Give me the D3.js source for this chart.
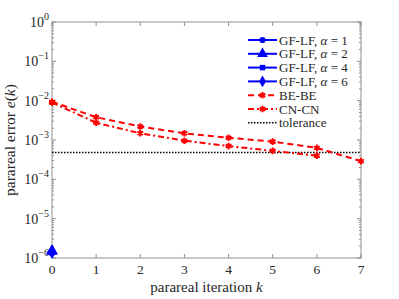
<!DOCTYPE html>
<html>
<head>
<meta charset="utf-8">
<script src="https://cdn.jsdelivr.net/npm/d3@7"></script>
<style>
  body { margin: 0; background: #fff; }
  text { font-family: "Liberation Serif", "DejaVu Serif", serif; fill: #262626; }
</style>
</head>
<body>
<script>
// parareal error vs iteration

var iterations = [0, 1, 2, 3, 4, 5, 6, 7];
var beBe = [9.4e-3, 3.8e-3, 2.2e-3, 1.48e-3, 1.14e-3, 9.1e-4, 6.3e-4, 2.9e-4];
var cnCn = [9.0e-3, 2.75e-3, 1.48e-3, 9.6e-4, 7.0e-4, 5.3e-4, 4.0e-4];
var gfAlpha = [1, 2, 4, 6];
var gfErr = [1.4e-6, 1.5e-6, 1.4e-6, 1.4e-6];
var tolerance = 4.8e-4;
var xTicks = [0, 1, 2, 3, 4, 5, 6, 7];
var yDecades = [0, -1, -2, -3, -4, -5, -6];

var W = 399, H = 299;
var m = {l: 52, r: 38, t: 22, b: 41};

var svg = d3.select("body").append("svg")
  .attr("width", W).attr("height", H);

var x = d3.scaleLinear().domain([0, 7]).range([m.l, W - m.r]);
var y = d3.scaleLog().domain([1e-6, 1]).range([H - m.b, m.t]);

var axCol = "#8f8f8f";

// frame
svg.append("rect")
  .attr("x", m.l).attr("y", m.t)
  .attr("width", W - m.r - m.l).attr("height", H - m.b - m.t)
  .attr("fill", "none").attr("stroke", axCol).attr("stroke-width", 1);

// x ticks (bottom + top, inward)
xTicks.forEach(function(k) {
  svg.append("line").attr("x1", x(k)).attr("x2", x(k))
    .attr("y1", H - m.b).attr("y2", H - m.b - 4).attr("stroke", axCol);
  svg.append("line").attr("x1", x(k)).attr("x2", x(k))
    .attr("y1", m.t).attr("y2", m.t + 4).attr("stroke", axCol);
  svg.append("text").attr("x", x(k)).attr("y", H - m.b + 16)
    .attr("text-anchor", "middle").attr("font-size", 13.5).text(k);
});

// y ticks, major and minor
var minor = y.ticks();
minor.forEach(function(v) {
  var major = Math.abs(Math.log10(v) - Math.round(Math.log10(v))) < 1e-9;
  var len = major ? 4 : 2;
  svg.append("line").attr("x1", m.l).attr("x2", m.l + len)
    .attr("y1", y(v)).attr("y2", y(v)).attr("stroke", axCol);
  svg.append("line").attr("x1", W - m.r).attr("x2", W - m.r - len)
    .attr("y1", y(v)).attr("y2", y(v)).attr("stroke", axCol);
});
yDecades.forEach(function(p) {
  var t = svg.append("text").attr("x", m.l - 3).attr("y", y(Math.pow(10, p)) + 5)
    .attr("text-anchor", "end").attr("font-size", 14);
  t.append("tspan").text("10");
  t.append("tspan").attr("dy", -7).attr("font-size", 10)
    .text(p === 0 ? "0" : "\u2212" + Math.abs(p));
});

// labels
var xl = svg.append("text").attr("x", (m.l + W - m.r) / 2).attr("y", H - 7)
  .attr("text-anchor", "middle").attr("font-size", 15);
xl.append("tspan").text("parareal iteration ");
xl.append("tspan").attr("font-style", "italic").text("k");

var yl = svg.append("text")
  .attr("transform", "translate(15," + ((m.t + H - m.b) / 2) + ") rotate(-90)")
  .attr("text-anchor", "middle").attr("font-size", 15.5);
yl.append("tspan").text("parareal error ");
yl.append("tspan").attr("font-style", "italic").text("e");
yl.append("tspan").text("(");
yl.append("tspan").attr("font-style", "italic").text("k");
yl.append("tspan").text(")");

// tolerance
svg.append("line").attr("x1", m.l).attr("x2", W - m.r)
  .attr("y1", y(tolerance)).attr("y2", y(tolerance))
  .attr("stroke", "#000").attr("stroke-width", 1.6).attr("stroke-dasharray", "1.5,1.5");

var line = d3.line().x(function(d, i) { return x(iterations[i]); })
  .y(function(d) { return y(d); });

var red = "#ff0000";
var series = [
  {name: "BE-BE", data: beBe, dash: "6,4"},
  {name: "CN-CN", data: cnCn, dash: "6,3,2,3"}
];
var star = d3.symbol().type(d3.symbolAsterisk).size(30);

series.forEach(function(s) {
  svg.append("path").attr("d", line(s.data)).attr("fill", "none")
    .attr("stroke", red).attr("stroke-width", 2).attr("stroke-dasharray", s.dash);
  svg.selectAll(null).data(s.data).enter().append("path")
    .attr("d", star)
    .attr("transform", function(d, i) { return "translate(" + x(iterations[i]) + "," + y(d) + ")"; })
    .attr("fill", "none").attr("stroke", red).attr("stroke-width", 2);
});

var blue = "#0000ff";
var shapes = [d3.symbolCircle, d3.symbolTriangle, d3.symbolSquare, d3.symbolDiamond];
var sizes = [30, 50, 30, 40];
gfErr.forEach(function(v, i) {
  svg.append("path").attr("d", d3.symbol().type(shapes[i]).size(sizes[i]))
    .attr("transform", "translate(" + x(0) + "," + y(v) + ")")
    .attr("fill", blue).attr("stroke", blue).attr("stroke-width", 1);
});

// legend
var lg = svg.append("g");
var rows = [];
gfAlpha.forEach(function(a, i) { rows.push({kind: "gf", i: i, a: a}); });
rows.push({kind: "red", s: series[0]});
rows.push({kind: "red", s: series[1]});
rows.push({kind: "tol"});

rows.forEach(function(r, j) {
  var yy = 40 + j * 13.8;
  var x1 = 248, x2 = 277, xm = (x1 + x2) / 2;
  if (r.kind === "gf") {
    lg.append("line").attr("x1", x1).attr("x2", x2).attr("y1", yy).attr("y2", yy)
      .attr("stroke", blue).attr("stroke-width", 2);
    lg.append("path").attr("d", d3.symbol().type(shapes[r.i]).size(sizes[r.i]))
      .attr("transform", "translate(" + xm + "," + yy + ")").attr("fill", blue);
    var t = lg.append("text").attr("x", x2 + 2).attr("y", yy + 4.5).attr("font-size", 13);
    t.append("tspan").text("GF-LF, ");
    t.append("tspan").attr("font-style", "italic").text("\u03b1");
    t.append("tspan").text(" = " + r.a);
  } else if (r.kind === "red") {
    lg.append("line").attr("x1", x1).attr("x2", x2).attr("y1", yy).attr("y2", yy)
      .attr("stroke", red).attr("stroke-width", 2).attr("stroke-dasharray", r.s.dash);
    lg.append("path").attr("d", star)
      .attr("transform", "translate(" + xm + "," + yy + ")")
      .attr("fill", "none").attr("stroke", red).attr("stroke-width", 2);
    lg.append("text").attr("x", x2 + 2).attr("y", yy + 4.5).attr("font-size", 13).text(r.s.name);
  } else {
    lg.append("line").attr("x1", x1).attr("x2", x2).attr("y1", yy).attr("y2", yy)
      .attr("stroke", "#000").attr("stroke-width", 1.6).attr("stroke-dasharray", "1.5,1.5");
    lg.append("text").attr("x", x2 + 2).attr("y", yy + 4.5).attr("font-size", 13).text("tolerance");
  }
});
</script>
</body>
</html>
